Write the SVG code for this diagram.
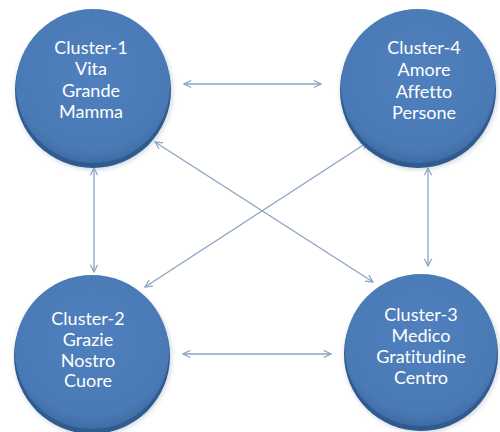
<svg xmlns="http://www.w3.org/2000/svg" width="500" height="432" viewBox="0 0 500 432">
<defs>
<radialGradient id="g" cx="0.5" cy="0.4" r="0.6">
<stop offset="0" stop-color="#4f80bd"/>
<stop offset="0.85" stop-color="#4a7ab6"/>
<stop offset="1" stop-color="#3f6ca6"/>
</radialGradient>
<marker id="ah" viewBox="0 0 10 10" refX="9" refY="5" markerWidth="9" markerHeight="9" markerUnits="userSpaceOnUse" orient="auto-start-reverse">
<path d="M1,1 L9,5 L1,9" fill="none" stroke="#8aa3c2" stroke-width="1.3"/>
</marker>
<filter id="sh" x="-20%" y="-20%" width="140%" height="140%">
<feGaussianBlur stdDeviation="2"/>
</filter>
</defs>
<style>
.rim{fill:#2f5b8f}
.sh{fill:#9aa9bb;opacity:0.4;filter:url(#sh)}
.c{fill:url(#g)}
.t{font-family:Lato,"Open Sans",sans-serif;font-size:18px;fill:#ffffff;text-anchor:middle;font-variant-ligatures:none;font-feature-settings:"liga" 0}
.ln{stroke:#8aa3c2;stroke-width:1.3;fill:none;marker-start:url(#ah);marker-end:url(#ah)}
</style>
<rect width="500" height="432" fill="#ffffff"/>
<g id="connectors">
<line class="ln" x1="184" y1="84" x2="321" y2="84"/>
<line class="ln" x1="183" y1="354" x2="331" y2="354"/>
<line class="ln" x1="94" y1="168" x2="94" y2="272"/>
<line class="ln" x1="428" y1="168" x2="428" y2="266"/>
<line class="ln" x1="155" y1="142" x2="373" y2="282"/>
<line class="ln" x1="368" y1="142" x2="145" y2="287"/>
</g>
<g id="cluster1">
<circle class="sh" cx="94" cy="91" r="79"/>
<circle class="rim" cx="93" cy="90" r="78"/>
<circle class="c" cx="93" cy="86" r="77"/>
<text class="t" x="91" y="54">Cluster-1</text>
<text class="t" x="91" y="75">Vita</text>
<text class="t" x="91" y="97">Grande</text>
<text class="t" x="91" y="118">Mamma</text>
</g>
<g id="cluster4">
<circle class="sh" cx="419" cy="91" r="79"/>
<circle class="rim" cx="418" cy="90" r="78"/>
<circle class="c" cx="418" cy="86" r="77"/>
<text class="t" x="424" y="54">Cluster-4</text>
<text class="t" x="424" y="76">Amore</text>
<text class="t" x="424" y="98">Affetto</text>
<text class="t" x="424" y="119">Persone</text>
</g>
<g id="cluster2">
<circle class="sh" cx="93" cy="357" r="79"/>
<circle class="rim" cx="92" cy="356" r="78"/>
<circle class="c" cx="92" cy="352" r="77"/>
<text class="t" x="88" y="325">Cluster-2</text>
<text class="t" x="88" y="346">Grazie</text>
<text class="t" x="88" y="367">Nostro</text>
<text class="t" x="88" y="387">Cuore</text>
</g>
<g id="cluster3">
<circle class="sh" cx="422" cy="355" r="78"/>
<circle class="rim" cx="421" cy="354" r="77"/>
<circle class="c" cx="421" cy="350" r="76"/>
<text class="t" x="421" y="321">Cluster-3</text>
<text class="t" x="421" y="342">Medico</text>
<text class="t" x="421" y="363">Gratitudine</text>
<text class="t" x="421" y="384">Centro</text>
</g>
</svg>
